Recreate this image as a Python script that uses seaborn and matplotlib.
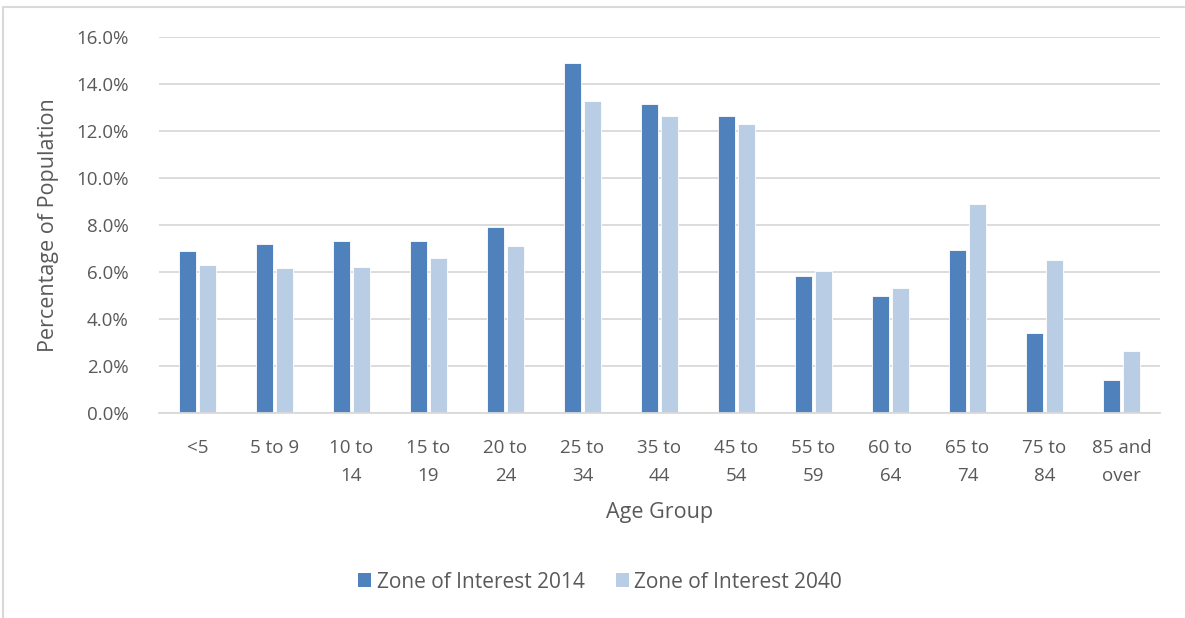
import matplotlib.pyplot as plt
from matplotlib.lines import Line2D
from matplotlib.patches import Patch
import pandas as pd
import seaborn as sns

# Data
age_groups = ['<5', '5 to 9', '10 to\n14', '15 to\n19', '20 to\n24', '25 to\n34', '35 to\n44',
              '45 to\n54', '55 to\n59', '60 to\n64', '65 to\n74', '75 to\n84', '85 and\nover']
pct_2014 = [6.9, 7.2, 7.3, 7.3, 7.9, 14.9, 13.15, 12.65, 5.83, 5.0, 6.93, 3.42, 1.42]
pct_2040 = [6.3, 6.15, 6.2, 6.6, 7.12, 13.27, 12.65, 12.3, 6.05, 5.3, 8.9, 6.5, 2.65]
series = ['Zone of Interest 2014', 'Zone of Interest 2040']
colors = ['#4F81BD', '#B9CDE5']

df = pd.DataFrame({
    'Age Group': age_groups * 2,
    'Percent': pct_2014 + pct_2040,
    'Series': [series[0]] * len(age_groups) + [series[1]] * len(age_groups),
})

sns.set_theme(style='white')
plt.rcParams['font.family'] = ['Open Sans', 'DejaVu Sans']
text_color = '#595959'
grid_color = '#D9D9D9'

fig = plt.figure(figsize=(11.85, 6.18), dpi=100)
ax = fig.add_axes([159 / 1185, 1 - 413 / 618, (1160 - 159) / 1185, (413 - 37) / 618])

sns.barplot(data=df, x='Age Group', y='Percent', hue='Series', palette=colors, saturation=1,
            width=0.52, gap=0.12, edgecolor='white', linewidth=0.6, ax=ax, legend=False)

ax.set_ylim(0, 16)
ax.set_xlim(-0.5, len(age_groups) - 0.5)
ax.set_yticks(range(0, 17, 2))
ax.set_yticklabels([f'{v:.1f}%' for v in range(0, 17, 2)])
ax.yaxis.grid(True, color=grid_color, linewidth=1.3)
ax.set_axisbelow(True)
for side in ['top', 'right', 'left']:
    ax.spines[side].set_visible(False)
ax.spines['bottom'].set_color(grid_color)
ax.spines['bottom'].set_linewidth(1.3)
ax.tick_params(axis='both', length=0, labelsize=13.5, colors=text_color)
ax.tick_params(axis='y', pad=22)
ax.tick_params(axis='x', pad=19)
for lbl in ax.get_xticklabels():
    lbl.set_linespacing(1.7)
    lbl.set_verticalalignment('top')

ax.set_xlabel('Age Group', fontsize=15.5, color=text_color, labelpad=12)
ax.set_ylabel('Percentage of Population', fontsize=15.5, color=text_color, labelpad=12)

handles = [Patch(facecolor=c, edgecolor='none') for c in colors]
fig.legend(handles, series, loc='center', bbox_to_anchor=(600 / 1185, 1 - 582 / 618), ncol=2,
           frameon=False, fontsize=15, labelcolor=text_color, handlelength=0.65, handleheight=0.65,
           handletextpad=0.25, columnspacing=1.5)

# Chart border (cropped on right and bottom)
fig.add_artist(Line2D([3 / 1185, 1], [1 - 7 / 618, 1 - 7 / 618], color=grid_color, lw=1.5))
fig.add_artist(Line2D([3 / 1185, 3 / 1185], [0, 1 - 7 / 618], color=grid_color, lw=1.5))

fig.savefig('out.png', dpi=100, facecolor='white')
